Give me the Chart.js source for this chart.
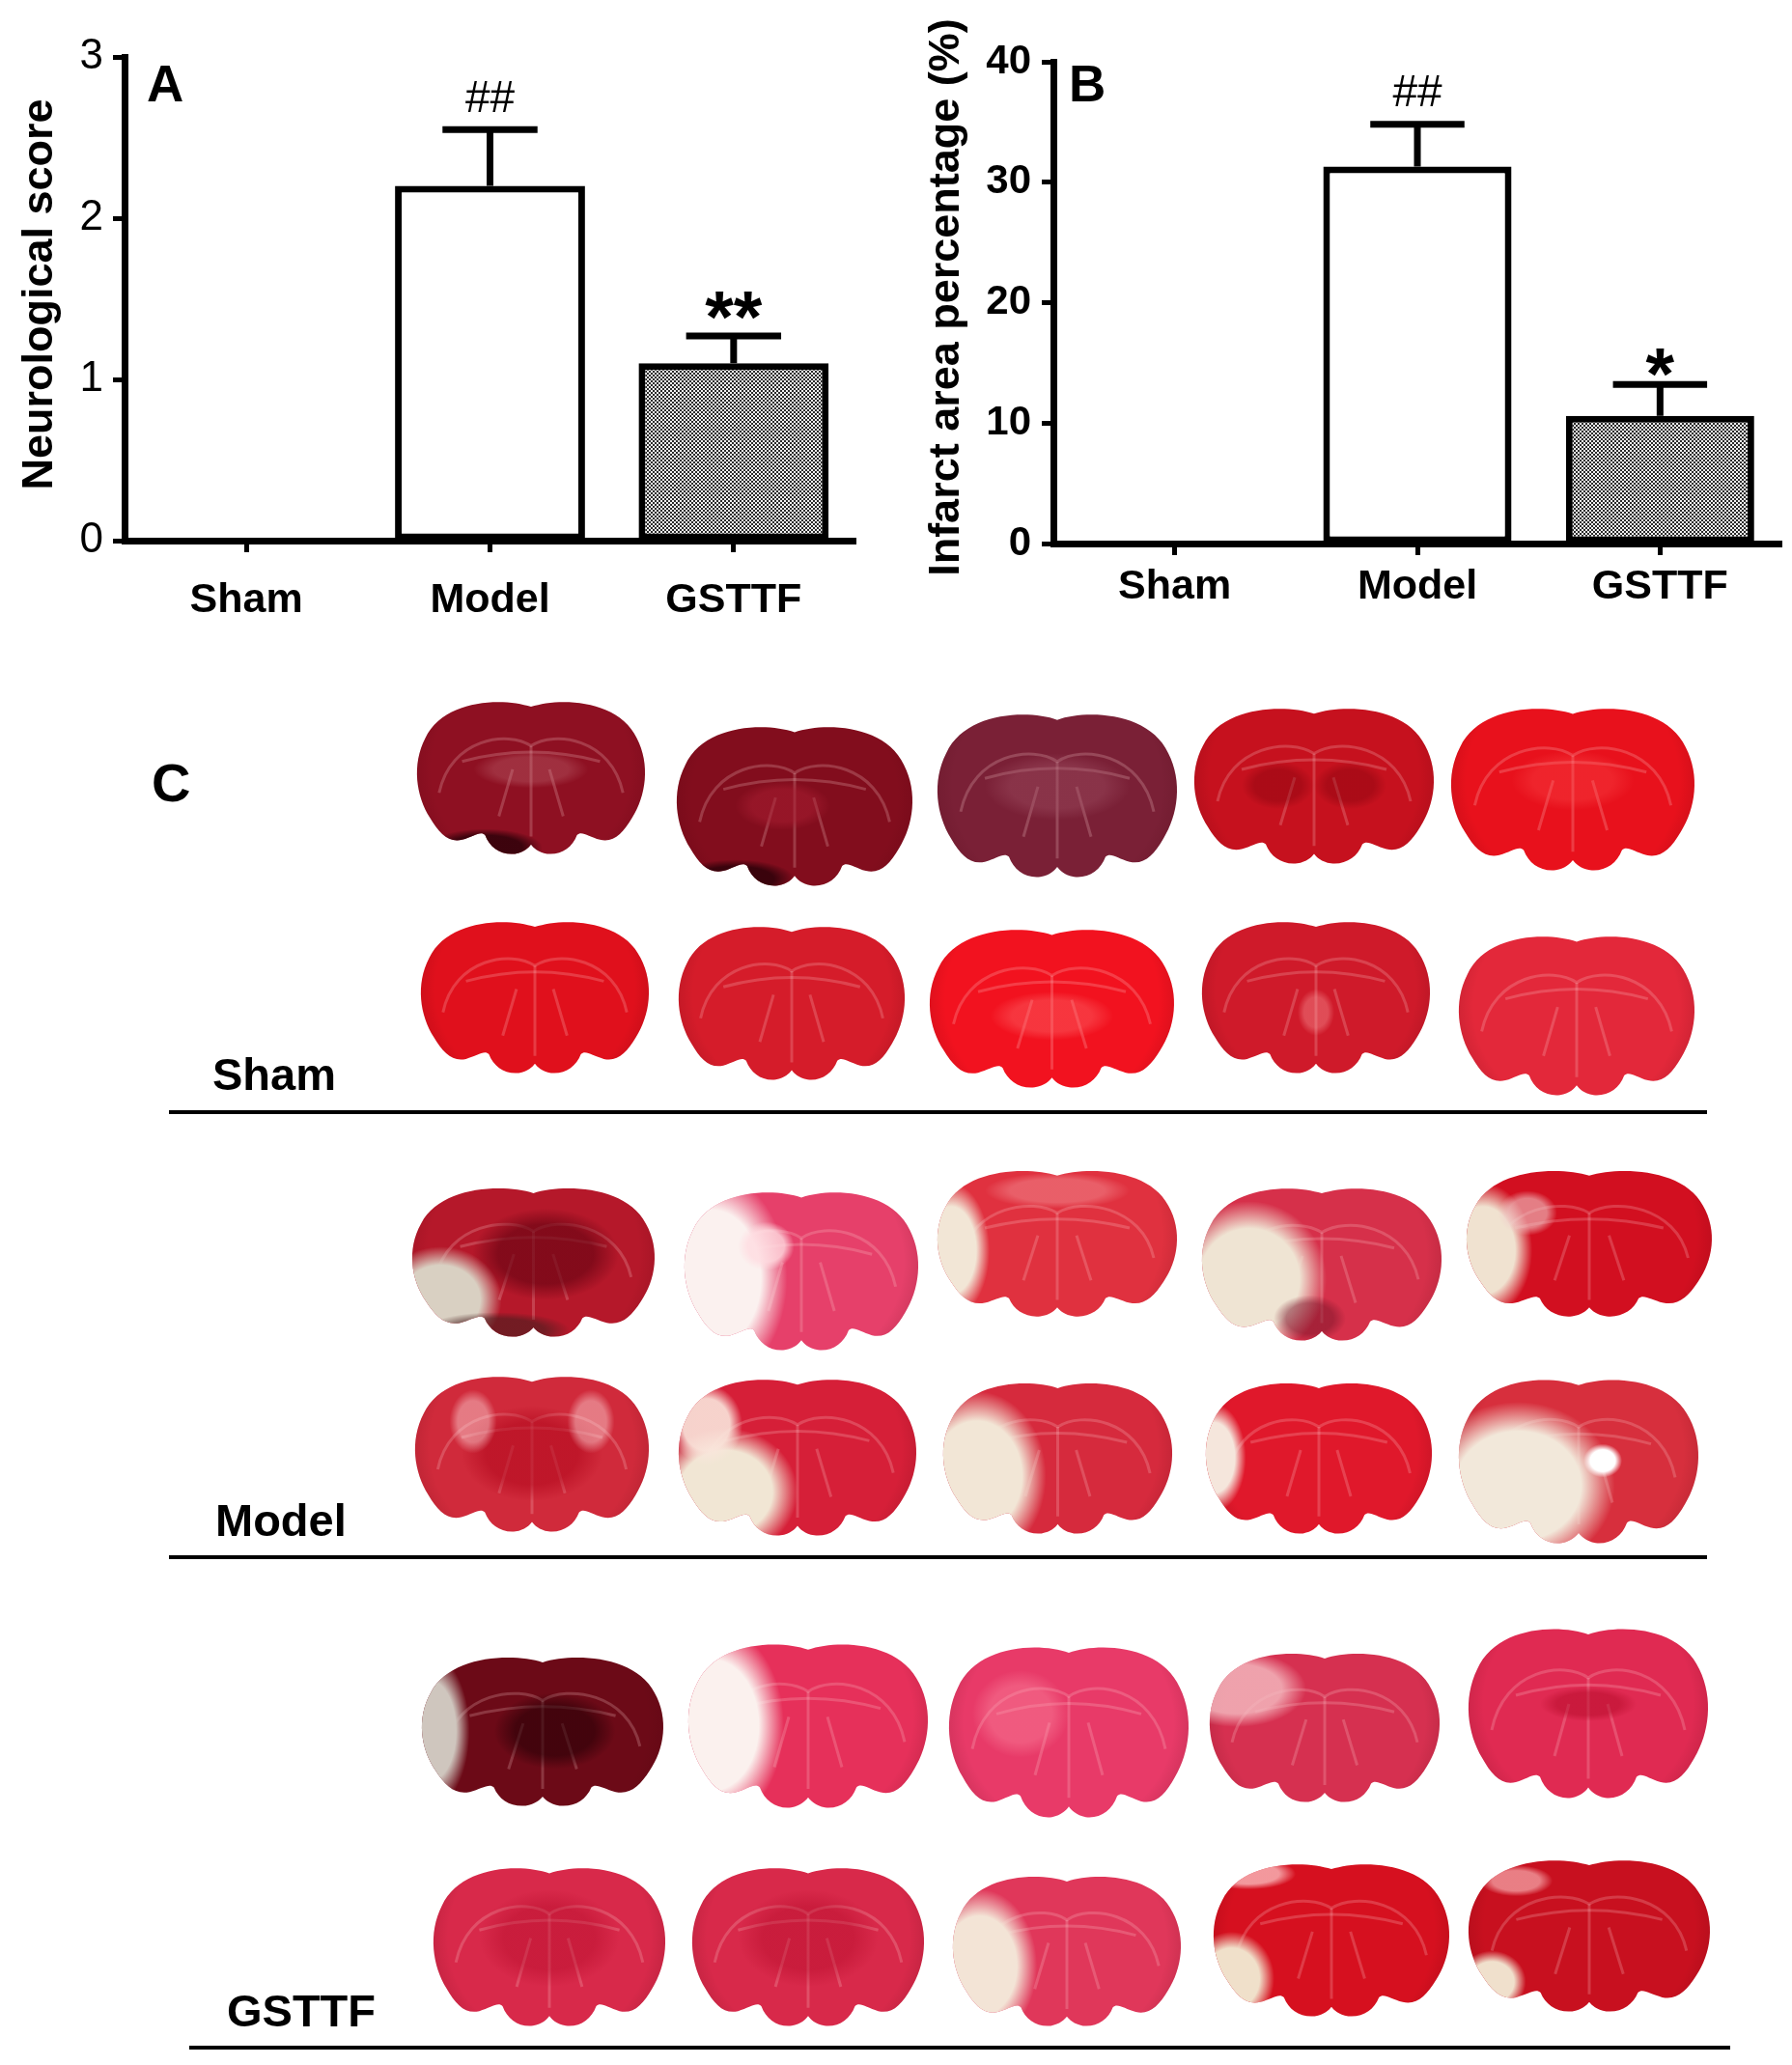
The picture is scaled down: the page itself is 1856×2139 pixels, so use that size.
<!DOCTYPE html>
<html><head><meta charset="utf-8">
<script src="https://cdn.jsdelivr.net/npm/chart.js@4.4.1/dist/chart.umd.min.js"></script>
<style>
html,body{margin:0;padding:0;background:#fff;}
body{width:1856px;height:2139px;position:relative;overflow:hidden;}
canvas{position:absolute;}
</style></head><body>
<canvas id="cA" width="928" height="660" style="left:0;top:0;width:928px;height:660px"></canvas>
<canvas id="cB" width="928" height="660" style="left:928px;top:0;width:928px;height:660px"></canvas>
<canvas id="cC" width="1856" height="1479" style="left:0;top:660px;width:1856px;height:1479px"></canvas>
<script>
// ---------------- data ----------------
const categories = ['Sham', 'Model', 'GSTTF'];
const neuroScore = [0, 2.2, 1.1];
const neuroSEM = [0, 0.35, 0.17];
const neuroTicks = [0, 1, 2, 3];
const neuroSig = ['', '##', '**'];
const infarctPct = [0, 31.3, 10.6];
const infarctSEM = [0, 3.5, 2.6];
const infarctTicks = [0, 10, 20, 30, 40];
const infarctSig = ['', '##', '*'];
const groupLabels = ['Sham', 'Model', 'GSTTF'];

// ---------------- styles ----------------
const FONT = "'Liberation Sans', Arial, Helvetica, sans-serif";

function checkerPattern() {
  const c = document.createElement('canvas');
  c.width = 4; c.height = 4;
  const g = c.getContext('2d');
  g.fillStyle = '#f2f2f2'; g.fillRect(0, 0, 4, 4);
  g.fillStyle = '#2a2a2a'; g.fillRect(0, 0, 2, 2); g.fillRect(2, 2, 2, 2);
  return g.createPattern(c, 'repeat');
}
const pattern = checkerPattern();

function makeAnnotPlugin(id, means, sems, marks, st) {
  return {
    id: id,
    afterDatasetsDraw(chart) {
      const ctx = chart.ctx, y = chart.scales.y, meta = chart.getDatasetMeta(0);
      ctx.save();
      ctx.strokeStyle = '#000'; ctx.fillStyle = '#000'; ctx.lineWidth = 7; ctx.lineCap = 'butt';
      means.forEach((m, i) => {
        const s = sems[i], bar = meta.data[i], x = bar.x;
        if (s > 0) {
          const yb = y.getPixelForValue(m), yt = y.getPixelForValue(m + s);
          const half = bar.width * 0.25;
          ctx.beginPath();
          ctx.moveTo(x, yb); ctx.lineTo(x, yt);
          ctx.moveTo(x - half, yt); ctx.lineTo(x + half, yt);
          ctx.stroke();
        }
        const mk = marks[i];
        if (mk) {
          const ms = st.marks[i];
          ctx.font = ms.font; ctx.textAlign = 'center'; ctx.textBaseline = 'alphabetic';
          const mt = ctx.measureText(mk);
          const cy = y.getPixelForValue(m + s) - ms.gap;
          const by = cy - (mt.actualBoundingBoxDescent - mt.actualBoundingBoxAscent) / 2;
          ctx.fillText(mk, x, by);
        }
      });
      ctx.font = 'bold 53px ' + FONT; ctx.textAlign = 'left'; ctx.textBaseline = 'alphabetic';
      ctx.fillText(st.letter, st.letterX, st.letterY);
      ctx.save();
      ctx.translate(st.titleX, st.titleY); ctx.rotate(-Math.PI / 2);
      ctx.font = 'bold 45px ' + FONT; ctx.textAlign = 'center'; ctx.textBaseline = 'alphabetic';
      ctx.fillText(st.title, 0, 0);
      ctx.restore();
      ctx.restore();
    }
  };
}

function barChart(canvasId, values, sems, ticksArr, yMax, marks, st) {
  return new Chart(document.getElementById(canvasId), {
    type: 'bar',
    data: {
      labels: categories,
      datasets: [{
        data: values,
        backgroundColor: ['#ffffff', '#ffffff', pattern],
        borderColor: '#000', borderWidth: 7, borderSkipped: false,
        barPercentage: st.barPct, categoryPercentage: 1
      }]
    },
    options: {
      responsive: false, animation: false, devicePixelRatio: 1, events: [],
      layout: { padding: { left: 0, top: st.top, right: st.right, bottom: 0 } },
      plugins: { legend: { display: false }, tooltip: { enabled: false }, title: { display: false } },
      scales: {
        x: {
          offset: true,
          grid: { display: true, offset: false, drawOnChartArea: false, drawTicks: true, tickLength: 12, tickWidth: 5, tickColor: '#000', color: '#000' },
          border: { display: true, width: 7, color: '#000' },
          ticks: { font: { family: FONT, size: 43, weight: 'bold' }, color: '#000', padding: st.xPad, maxRotation: 0, autoSkip: false },
          afterFit(s) { s.height = st.xH; }
        },
        y: {
          min: 0, max: yMax,
          afterBuildTicks(s) { s.ticks = ticksArr.map(v => ({ value: v })); },
          grid: { display: true, drawOnChartArea: false, drawTicks: true, tickLength: 12, tickWidth: 5, tickColor: '#000', color: '#000' },
          border: { display: true, width: 7, color: '#000' },
          ticks: { font: { family: FONT, size: st.yFont, weight: st.yWeight }, color: '#000', padding: st.yPad },
          afterFit(s) { s.width = st.yW; }
        }
      }
    },
    plugins: [makeAnnotPlugin('annot' + canvasId, values, sems, marks, st)]
  });
}

barChart('cA', neuroScore, neuroSEM, neuroTicks, 3, neuroSig, {
  top: 59, right: 42, yW: 129, xH: 100, xPad: 24, yPad: 10, yFont: 44, yWeight: 'normal', barPct: 0.78,
  letter: 'A', letterX: 152, letterY: 105, title: 'Neurological score', titleX: 54, titleY: 305,
  marks: [null, { font: '46px ' + FONT, gap: 34 }, { font: 'bold 76px ' + FONT, gap: 31 }]
});
barChart('cB', infarctPct, infarctSEM, infarctTicks, 40, infarctSig, {
  top: 64, right: 11, yW: 163, xH: 97, xPad: 7, yPad: 11, yFont: 42, yWeight: 'bold', barPct: 0.776,
  letter: 'B', letterX: 179, letterY: 105, title: 'Infarct area percentage (%)', titleX: 65, titleY: 308,
  marks: [null, { font: '46px ' + FONT, gap: 35 }, { font: 'bold 76px ' + FONT, gap: 23 }]
});

// ---------------- panel C (TTC-stained slice photographs, drawn as illustrations) ----------------
// patch colours given as [r,g,b,alpha]
const CREAM = [242, 230, 214, 1];
const sliceStyles = [
  // Sham row 1
  { box: [431, 724, 669, 886], c: '#8e1022', p: [[0.5, 0.45, 0.25, 0.12, [200, 120, 130, 0.3]], [0.3, 0.95, 0.25, 0.12, [40, 0, 8, 0.8]]] },
  { box: [700, 750, 946, 919], c: '#820d1d', p: [[0.25, 0.95, 0.25, 0.12, [40, 0, 8, 0.8]], [0.45, 0.5, 0.2, 0.15, [170, 30, 50, 0.5]]] },
  { box: [970, 737, 1220, 910], c: '#7a2036', p: [[0.5, 0.45, 0.3, 0.2, [160, 80, 100, 0.4]]] },
  { box: [1236, 731, 1486, 896], c: '#c6111e', p: [[0.35, 0.5, 0.15, 0.15, [120, 0, 10, 0.35]], [0.65, 0.5, 0.15, 0.15, [120, 0, 10, 0.35]]] },
  { box: [1502, 731, 1756, 903], c: '#e8111c', p: [[0.5, 0.45, 0.25, 0.18, [255, 80, 80, 0.3]]] },
  // Sham row 2
  { box: [435, 952, 673, 1113], c: '#e0101c', p: [] },
  { box: [702, 957, 938, 1120], c: '#d51c2a', p: [] },
  { box: [962, 960, 1217, 1128], c: '#f2121f', p: [[0.5, 0.55, 0.25, 0.15, [255, 120, 120, 0.35]]] },
  { box: [1244, 952, 1482, 1113], c: '#cf1a2a', p: [[0.5, 0.6, 0.08, 0.15, [255, 170, 170, 0.35]]] },
  { box: [1510, 967, 1756, 1136], c: '#e3283a', p: [] },
  // Model row 1
  { box: [426, 1228, 679, 1386], c: '#b5182a', p: [[0.55, 0.45, 0.3, 0.3, [110, 5, 20, 0.7]], [0.12, 0.75, 0.25, 0.35, [217, 208, 194, 1]], [0.35, 0.95, 0.3, 0.12, [70, 30, 30, 0.6]]] },
  { box: [708, 1232, 952, 1400], c: '#e6406a', p: [[0.12, 0.55, 0.32, 0.65, [251, 241, 239, 1]], [0.35, 0.35, 0.12, 0.15, [255, 220, 225, 0.8]]] },
  { box: [970, 1210, 1220, 1365], c: '#e0313f', p: [[0.06, 0.55, 0.16, 0.45, CREAM], [0.5, 0.15, 0.3, 0.12, [255, 200, 200, 0.3]]] },
  { box: [1244, 1228, 1494, 1390], c: '#d6304a', p: [[0.2, 0.6, 0.32, 0.5, [239, 228, 211, 1]], [0.45, 0.85, 0.15, 0.15, [120, 20, 40, 0.5]]] },
  { box: [1518, 1210, 1774, 1365], c: '#d20f20', p: [[0.07, 0.55, 0.2, 0.45, [240, 226, 208, 1]], [0.25, 0.3, 0.12, 0.15, [240, 200, 200, 0.6]]] },
  // Model row 2
  { box: [429, 1423, 673, 1588], c: '#d02a3b', p: [[0.5, 0.5, 0.3, 0.3, [180, 10, 30, 0.6]], [0.25, 0.3, 0.1, 0.2, [255, 220, 220, 0.45]], [0.75, 0.3, 0.1, 0.2, [255, 220, 220, 0.45]]] },
  { box: [702, 1426, 950, 1592], c: '#d61f38', p: [[0.2, 0.72, 0.3, 0.4, [241, 230, 212, 1]], [0.12, 0.3, 0.15, 0.25, [250, 230, 220, 0.9]]] },
  { box: [976, 1430, 1215, 1590], c: '#d62a3d', p: [[0.15, 0.62, 0.3, 0.55, CREAM]] },
  { box: [1248, 1430, 1484, 1590], c: '#e0182b', p: [[0.04, 0.5, 0.14, 0.35, [245, 230, 220, 1]]] },
  { box: [1510, 1426, 1760, 1600], c: '#d72f3d', p: [[0.25, 0.65, 0.4, 0.5, [242, 232, 218, 1]], [0.6, 0.5, 0.08, 0.1, [255, 255, 255, 1]]] },
  // GSTTF row 1
  { box: [436, 1714, 688, 1872], c: '#6c0a17', p: [[0.04, 0.5, 0.16, 0.5, [207, 198, 190, 1]], [0.55, 0.5, 0.25, 0.25, [40, 0, 6, 0.6]]] },
  { box: [712, 1700, 962, 1874], c: '#e6305a', p: [[0.1, 0.5, 0.3, 0.6, [251, 241, 238, 1]]] },
  { box: [982, 1703, 1232, 1884], c: '#e83a68', p: [[0.3, 0.4, 0.2, 0.25, [255, 150, 170, 0.35]]] },
  { box: [1252, 1710, 1492, 1868], c: '#d63050', p: [[0.12, 0.25, 0.3, 0.25, [245, 190, 195, 0.8]]] },
  { box: [1520, 1684, 1770, 1864], c: '#e02a52', p: [[0.5, 0.45, 0.2, 0.1, [180, 10, 40, 0.5]]] },
  // GSTTF row 2
  { box: [448, 1932, 690, 2100], c: '#d8294a', p: [[0.5, 0.45, 0.3, 0.3, [180, 10, 40, 0.4]]] },
  { box: [716, 1932, 958, 2100], c: '#d8294a', p: [[0.5, 0.45, 0.3, 0.3, [180, 10, 40, 0.4]]] },
  { box: [986, 1941, 1224, 2100], c: '#e0375a', p: [[0.12, 0.6, 0.25, 0.5, [243, 228, 214, 1]]] },
  { box: [1256, 1928, 1502, 2090], c: '#d6101f', p: [[0.08, 0.75, 0.18, 0.3, [240, 224, 202, 1]], [0.15, 0.08, 0.2, 0.1, [255, 210, 210, 0.7]]] },
  { box: [1520, 1924, 1772, 2085], c: '#c8101f', p: [[0.1, 0.8, 0.14, 0.2, [240, 224, 204, 1]], [0.2, 0.15, 0.15, 0.1, [255, 200, 200, 0.6]]] }
];
const sectionLabels = [
  { text: groupLabels[0], x: 220, y: 1129 },
  { text: groupLabels[1], x: 223, y: 1591 },
  { text: groupLabels[2], x: 235, y: 2099 }
];
const sectionRules = [[175, 1152, 1768], [175, 1613, 1768], [196, 2121, 1792]];

const LEFT = [[0.5, 0.05], [[0.38, -0.01], [0.12, 0.0], [0.04, 0.25]], [[-0.02, 0.42], [0.0, 0.62], [0.06, 0.76]],
  [[0.1, 0.86], [0.14, 0.92], [0.2, 0.9]], [[0.25, 0.88], [0.28, 0.84], [0.3, 0.87]],
  [[0.32, 0.95], [0.37, 1.0], [0.43, 0.99]], [[0.47, 0.98], [0.49, 0.95], [0.5, 0.93]]];
function brainPath(ctx, x, y, w, h) {
  const X = u => x + u * w, Y = v => y + v * h;
  ctx.beginPath(); ctx.moveTo(X(LEFT[0][0]), Y(LEFT[0][1]));
  for (let k = 1; k < LEFT.length; k++) {
    const [c1, c2, e] = LEFT[k];
    ctx.bezierCurveTo(X(c1[0]), Y(c1[1]), X(c2[0]), Y(c2[1]), X(e[0]), Y(e[1]));
  }
  for (let k = LEFT.length - 1; k >= 1; k--) {
    const [c1, c2] = LEFT[k];
    const prev = k === 1 ? LEFT[0] : LEFT[k - 1][2];
    ctx.bezierCurveTo(X(1 - c2[0]), Y(c2[1]), X(1 - c1[0]), Y(c1[1]), X(1 - prev[0]), Y(prev[1]));
  }
  ctx.closePath();
}
function rgba(c, a) { return 'rgba(' + c[0] + ',' + c[1] + ',' + c[2] + ',' + a + ')'; }
function blob(ctx, cx, cy, rx, ry, col) {
  ctx.save();
  ctx.translate(cx, cy); ctx.scale(rx, ry);
  const g = ctx.createRadialGradient(0, 0, 0, 0, 0, 1);
  g.addColorStop(0, rgba(col, col[3]));
  g.addColorStop(0.65, rgba(col, col[3]));
  g.addColorStop(1, rgba(col, 0));
  ctx.fillStyle = g;
  ctx.beginPath(); ctx.arc(0, 0, 1, 0, Math.PI * 2); ctx.fill();
  ctx.restore();
}
function drawSlice(ctx, s) {
  const [x0, y0, x1, y1] = s.box, w = x1 - x0, h = y1 - y0;
  const X = u => x0 + u * w, Y = v => y0 + v * h;
  ctx.save();
  brainPath(ctx, x0, y0, w, h);
  ctx.fillStyle = s.c; ctx.fill();
  ctx.clip();
  const g = ctx.createRadialGradient(X(0.5), Y(0.45), 0, X(0.5), Y(0.45), Math.max(w, h) * 0.62);
  g.addColorStop(0, 'rgba(60,0,10,0)'); g.addColorStop(0.7, 'rgba(60,0,10,0)'); g.addColorStop(1, 'rgba(60,0,10,0.3)');
  ctx.fillStyle = g; ctx.fillRect(x0 - 5, y0 - 5, w + 10, h + 10);
  // white-matter contours
  ctx.strokeStyle = 'rgba(255,215,215,0.22)'; ctx.lineWidth = 3;
  ctx.beginPath(); ctx.moveTo(X(0.1), Y(0.6)); ctx.bezierCurveTo(X(0.15), Y(0.25), X(0.4), Y(0.2), X(0.5), Y(0.3));
  ctx.bezierCurveTo(X(0.6), Y(0.2), X(0.85), Y(0.25), X(0.9), Y(0.6)); ctx.stroke();
  ctx.beginPath(); ctx.moveTo(X(0.2), Y(0.4)); ctx.quadraticCurveTo(X(0.5), Y(0.28), X(0.8), Y(0.4)); ctx.stroke();
  ctx.beginPath(); ctx.moveTo(X(0.5), Y(0.3)); ctx.lineTo(X(0.5), Y(0.88)); ctx.stroke();
  ctx.beginPath(); ctx.moveTo(X(0.42), Y(0.45)); ctx.lineTo(X(0.36), Y(0.75)); ctx.moveTo(X(0.58), Y(0.45)); ctx.lineTo(X(0.64), Y(0.75)); ctx.stroke();
  s.p.forEach(p => blob(ctx, X(p[0]), Y(p[1]), w * p[2], h * p[3], p[4]));
  ctx.restore();
}

const photoPlugin = {
  id: 'photos',
  afterDraw(chart) {
    const ctx = chart.ctx;
    ctx.save();
    ctx.translate(0, -660);
    sliceStyles.forEach(s => drawSlice(ctx, s));
    ctx.fillStyle = '#000';
    ctx.textAlign = 'left'; ctx.textBaseline = 'alphabetic';
    ctx.font = 'bold 56px ' + FONT;
    ctx.fillText('C', 157, 830);
    ctx.font = 'bold 47px ' + FONT;
    sectionLabels.forEach(l => ctx.fillText(l.text, l.x, l.y));
    ctx.strokeStyle = '#000'; ctx.lineWidth = 4;
    sectionRules.forEach(r => { ctx.beginPath(); ctx.moveTo(r[0], r[1]); ctx.lineTo(r[2], r[1]); ctx.stroke(); });
    ctx.restore();
  }
};
new Chart(document.getElementById('cC'), {
  type: 'scatter',
  data: { datasets: [] },
  options: {
    responsive: false, animation: false, devicePixelRatio: 1, events: [],
    plugins: { legend: { display: false }, tooltip: { enabled: false } },
    scales: { x: { display: false }, y: { display: false } }
  },
  plugins: [photoPlugin]
});
</script>
</body></html>
